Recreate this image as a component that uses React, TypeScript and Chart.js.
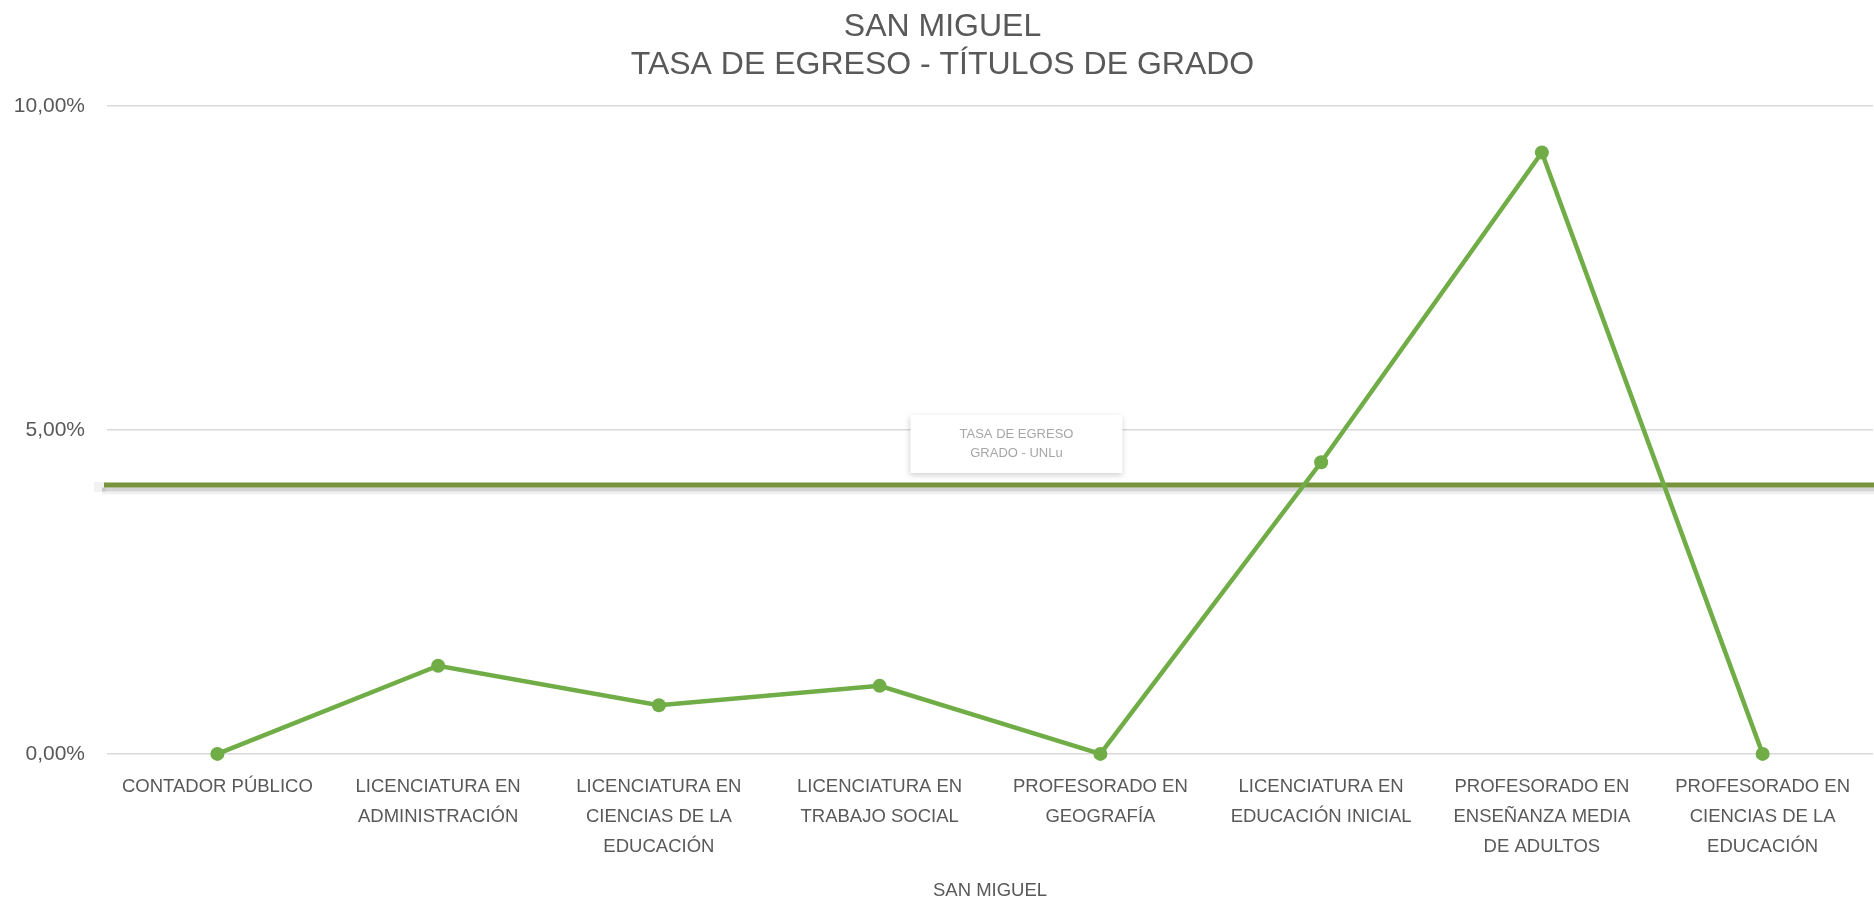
import React, { useEffect, useRef } from 'react';
import { Chart, registerables } from 'chart.js';

Chart.register(...registerables);

const chartTitle = ['SAN MIGUEL', 'TASA DE EGRESO - TÍTULOS DE GRADO'];
const xAxisTitle = 'SAN MIGUEL';

const categories: string[][] = [
  ['CONTADOR PÚBLICO'],
  ['LICENCIATURA EN', 'ADMINISTRACIÓN'],
  ['LICENCIATURA EN', 'CIENCIAS DE LA', 'EDUCACIÓN'],
  ['LICENCIATURA EN', 'TRABAJO SOCIAL'],
  ['PROFESORADO EN', 'GEOGRAFÍA'],
  ['LICENCIATURA EN', 'EDUCACIÓN INICIAL'],
  ['PROFESORADO EN', 'ENSEÑANZA MEDIA', 'DE ADULTOS'],
  ['PROFESORADO EN', 'CIENCIAS DE LA', 'EDUCACIÓN'],
];

// Tasa de egreso (%) por carrera
const tasaEgreso = [0, 1.36, 0.75, 1.05, 0, 4.5, 9.28, 0];

// Tasa de egreso de grado UNLu (%)
const tasaUNLu = 4.15;
const referenceLabel = ['TASA DE EGRESO', 'GRADO - UNLu'];

const yMin = 0;
const yMax = 10;
const yStep = 5;

const sans = "'Liberation Sans', Arial, sans-serif";

const refLinePlugin = {
  id: 'refLine',
  beforeDatasetsDraw(chart: any) {
    const { ctx, chartArea, scales } = chart;
    const y = scales.y.getPixelForValue(tasaUNLu);
    const left = chartArea.left - 3;
    const right = chart.width;
    ctx.save();
    // soft shadow under the line
    ctx.fillStyle = 'rgba(0,0,0,0.05)';
    ctx.fillRect(left - 10, y - 3, 12, 10);
    ctx.fillStyle = 'rgba(0,0,0,0.17)';
    ctx.fillRect(left - 2, y + 2.5, right - left + 2, 4);
    ctx.fillStyle = 'rgba(0,0,0,0.06)';
    ctx.fillRect(left - 2, y + 6.5, right - left + 2, 3);
    ctx.strokeStyle = '#77933C';
    ctx.lineWidth = 5;
    ctx.beginPath();
    ctx.moveTo(left, y);
    ctx.lineTo(right, y);
    ctx.stroke();

    // label box
    const cx = chartArea.left + 0.515 * (chartArea.right - chartArea.left);
    const bw = 212;
    const top = y - 70;
    const bh = 58;
    ctx.shadowColor = 'rgba(0,0,0,0.2)';
    ctx.shadowBlur = 6;
    ctx.shadowOffsetY = 2;
    ctx.fillStyle = '#FFFFFF';
    ctx.fillRect(cx - bw / 2, top, bw, bh);
    ctx.shadowColor = 'transparent';
    ctx.shadowBlur = 0;
    ctx.shadowOffsetY = 0;
    ctx.fillStyle = '#A6A6A6';
    ctx.font = `13px ${sans}`;
    ctx.textAlign = 'center';
    ctx.textBaseline = 'middle';
    ctx.fillText(referenceLabel[0], cx, y - 51);
    ctx.fillText(referenceLabel[1], cx, y - 32);
    ctx.restore();
  },
};

export default function App() {
  const canvasRef = useRef<HTMLCanvasElement | null>(null);

  useEffect(() => {
    document.body.style.margin = '0';
    const canvas = canvasRef.current;
    if (!canvas) return;
    const chart = new Chart(canvas, {
      type: 'line',
      data: {
        labels: categories,
        datasets: [
          {
            label: 'Tasa de egreso',
            data: tasaEgreso,
            borderColor: '#70AD47',
            backgroundColor: '#70AD47',
            borderWidth: 4.5,
            pointRadius: 7,
            pointBorderWidth: 0,
            pointBackgroundColor: '#70AD47',
            tension: 0,
            clip: false,
          },
        ],
      },
      options: {
        animation: false,
        responsive: true,
        maintainAspectRatio: false,
        layout: { autoPadding: false, padding: { left: 12, right: 1, top: 0, bottom: 0 } },
        plugins: {
          legend: { display: false },
          tooltip: { enabled: false },
          title: {
            display: true,
            text: chartTitle,
            color: '#595959',
            font: { family: sans, size: 32, weight: 'normal', lineHeight: 1.2 },
            padding: { top: 8, bottom: 21 },
          },
        },
        scales: {
          x: {
            type: 'category',
            offset: true,
            grid: { display: false, drawTicks: false },
            border: { display: false },
            afterFit: (scale: any) => {
              scale.paddingLeft = 0;
              scale.paddingRight = 0;
            },
            ticks: {
              color: '#595959',
              font: { family: sans, size: 18.5, lineHeight: 1.62 },
              maxRotation: 0,
              minRotation: 0,
              autoSkip: false,
              padding: 18,
            },
            title: {
              display: true,
              text: xAxisTitle,
              color: '#595959',
              font: { family: sans, size: 18.5, lineHeight: 1.2 },
              padding: { top: 0, bottom: 0 },
            },
          },
          y: {
            min: yMin,
            max: yMax,
            grid: { color: '#D9D9D9', lineWidth: 1.5, drawTicks: false },
            border: { display: false },
            afterFit: (scale: any) => {
              scale.width = 95;
            },
            ticks: {
              stepSize: yStep,
              color: '#595959',
              font: { family: sans, size: 21 },
              padding: 22,
              callback: (v: any) => Number(v).toFixed(2).replace('.', ',') + '%',
            },
          },
        },
      },
      plugins: [refLinePlugin],
    });
    return () => chart.destroy();
  }, []);

  return (
    <div style={{ position: 'absolute', left: 0, top: 0, width: 1874, height: 902, background: '#fff' }}>
      <canvas ref={canvasRef} />
    </div>
  );
}
